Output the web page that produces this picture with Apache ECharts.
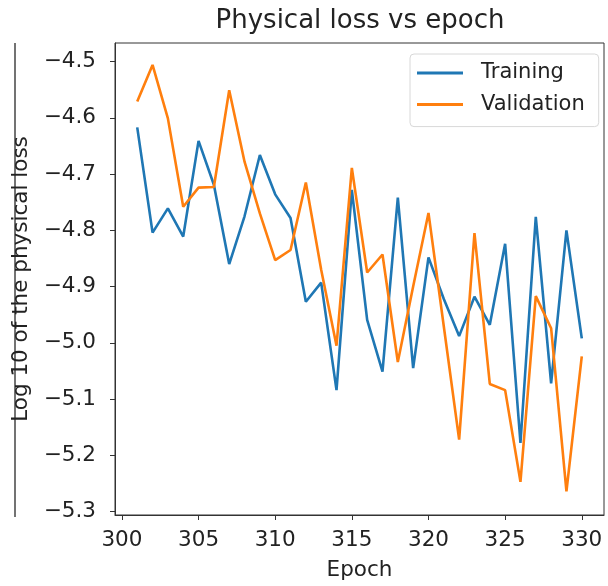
<!DOCTYPE html>
<html>
<head>
<meta charset="utf-8">
<script src="https://cdn.jsdelivr.net/npm/echarts@6/dist/echarts.min.js"></script>
<style>html,body{margin:0;padding:0;background:#fff;}#c{width:608px;height:586px;}</style>
</head>
<body>
<div id="c"></div>
<script>
var epochs = [301,302,303,304,305,306,307,308,309,310,311,312,313,314,315,316,317,318,319,320,321,322,323,324,325,326,327,328,329,330];
var trainingLoss = [-4.617,-4.804,-4.761,-4.811,-4.641,-4.719,-4.860,-4.775,-4.666,-4.736,-4.778,-4.927,-4.893,-5.084,-4.728,-4.959,-5.051,-4.742,-5.045,-4.848,-4.922,-4.988,-4.918,-4.968,-4.824,-5.178,-4.776,-5.072,-4.800,-4.992];
var validationLoss = [-4.571,-4.506,-4.601,-4.758,-4.724,-4.723,-4.551,-4.678,-4.770,-4.853,-4.835,-4.715,-4.870,-5.005,-4.689,-4.875,-4.843,-5.034,-4.900,-4.769,-4.971,-5.172,-4.805,-5.073,-5.084,-5.247,-4.917,-4.974,-5.264,-5.024];
var xTicks = [300,305,310,315,320,325,330];
var yTicks = [-5.3,-5.2,-5.1,-5.0,-4.9,-4.8,-4.7,-4.6,-4.5];

var FONT = 'DejaVu Sans';
var TXT = '#222';
var FS = 21.5;
function pairs(ys){ return epochs.map(function(e,i){ return [e, ys[i]]; }); }

var chart = echarts.init(document.getElementById('c'), null, {renderer:'canvas'});
chart.setOption({
  animation: false,
  backgroundColor: '#fff',
  title: {
    text: 'Physical loss vs epoch',
    left: 360, top: 8, textAlign: 'center', padding: 0,
    textStyle: {fontFamily: FONT, fontSize: 26, fontWeight: 'normal', color: TXT}
  },
  legend: {
    orient: 'vertical',
    left: 410, top: 54,
    padding: [7, 14, 10, 7],
    itemGap: 7.6,
    itemWidth: 46, itemHeight: 3,
    icon: 'rect',
    backgroundColor: '#fff',
    borderColor: '#d8d8d8', borderWidth: 1, borderRadius: 4,
    textStyle: {fontFamily: FONT, fontSize: 21, color: TXT, lineHeight: 24, width: 103, padding: [0,0,0,13]},
    data: ['Training', 'Validation']
  },
  grid: {
    left: 115, top: 43, right: 4, bottom: 71,
    show: true, borderColor: '#333', borderWidth: 1, backgroundColor: 'transparent'
  },
  xAxis: {
    type: 'value',
    min: 299.55, max: 331.45,
    name: 'Epoch', nameLocation: 'middle', nameGap: 44,
    nameTextStyle: {fontFamily: FONT, fontSize: FS, color: TXT},
    axisLine: {show: true, lineStyle: {color: '#333', width: 1}},
    axisTick: {show: true, length: 5, lineStyle: {color: '#333'}, customValues: xTicks},
    axisLabel: {show: true, margin: 14, fontFamily: FONT, fontSize: FS, color: TXT, customValues: xTicks,
      formatter: function(v){ return String(v); }},
    splitLine: {show: false}
  },
  yAxis: {
    type: 'value',
    min: -5.306, max: -4.467,
    name: 'Log 10 of the physical loss', nameLocation: 'middle', nameGap: 72, nameRotate: 90,
    nameTextStyle: {fontFamily: FONT, fontSize: FS, color: TXT},
    axisLine: {show: true, lineStyle: {color: '#333', width: 1}},
    axisTick: {show: true, length: 5, lineStyle: {color: '#333'}, customValues: yTicks},
    axisLabel: {show: true, margin: 19, fontFamily: FONT, fontSize: FS, color: TXT, customValues: yTicks,
      formatter: function(v){ return v.toFixed(1).replace('-', '\u2212'); }},
    splitLine: {show: false}
  },
  graphic: [{
    type: 'line', silent: true,
    shape: {x1: 15, y1: 43, x2: 15, y2: 517},
    style: {stroke: '#444', lineWidth: 1.5}
  }],
  series: [
    {name: 'Training', type: 'line', data: pairs(trainingLoss), showSymbol: false, symbol: 'none',
     itemStyle: {color: '#1f77b4'}, lineStyle: {color: '#1f77b4', width: 2.6}},
    {name: 'Validation', type: 'line', data: pairs(validationLoss), showSymbol: false, symbol: 'none',
     itemStyle: {color: '#ff7f0e'}, lineStyle: {color: '#ff7f0e', width: 2.6}}
  ]
});
</script>
</body>
</html>
